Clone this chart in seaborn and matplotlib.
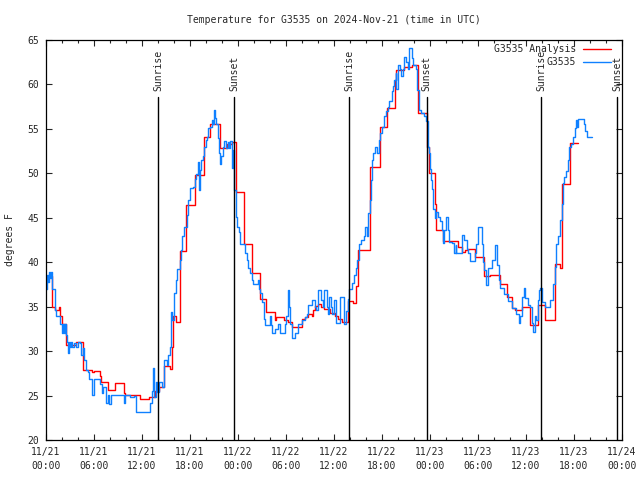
"""
Temperature for G3535 on 2024-Nov-21: analysis vs. station observations.
"""

import matplotlib
matplotlib.use("Agg")
import matplotlib.pyplot as plt
import matplotlib.dates as mdates
import matplotlib.transforms as mtransforms
import numpy as np
import pandas as pd
import seaborn as sns

# hours after 2024-11-21 00:00 UTC
start = pd.Timestamp("2024-11-21 00:00")

red_hours = [0.0, 0.7, 1.1, 1.6, 1.75, 2.0, 2.5, 3.8, 4.6, 5.7, 6.0, 6.7, 6.9, 7.7,
             8.6, 9.7, 9.9, 11.75, 12.9, 13.6, 14.1, 14.7, 15.5, 15.7, 15.9, 16.3,
             16.7, 17.5, 18.6, 19.7, 20.5, 21.7, 22.6, 23.2, 23.8, 24.7, 25.7, 26.8,
             27.5, 28.6, 28.8, 29.7, 30.3, 30.7, 32.0, 32.4, 32.8, 33.2, 33.4, 33.6,
             34.0, 34.4, 34.8, 35.5, 36.1, 36.5, 37.0, 37.8, 38.4, 38.75, 39.0, 40.5,
             41.7, 42.6, 43.6, 43.8, 44.7, 45.7, 46.5, 47.6, 47.9, 48.6, 48.8, 49.6,
             51.5, 51.96, 52.4, 52.8, 53.6, 54.7, 55.5, 56.75, 57.6, 58.2, 58.6,
             59.5, 60.5, 61.5, 62.4, 63.6, 64.25, 64.5, 65.5, 66.5]
red_temps = [38.4, 35.0, 34.6, 35.0, 33.9, 33.0, 30.7, 31.0, 27.9, 27.6, 27.8, 27.2, 26.5, 25.6,
             26.4, 25.3, 25.1, 24.6, 24.8, 25.5, 26.0, 28.3, 28.0, 30.5, 33.9, 33.3,
             41.3, 46.4, 49.8, 54.1, 55.6, 52.8, 53.3, 53.5, 47.9, 42.1, 38.75, 35.9,
             34.4, 33.5, 33.8, 33.5, 33.3, 32.75, 33.6, 33.8, 34.2, 34.0, 34.6, 35.1,
             35.3, 35.0, 34.7, 34.3, 33.9, 33.6, 33.3, 35.6, 35.4, 37.3, 41.4, 50.75,
             55.25, 57.3, 60.5, 61.6, 62.0, 62.2, 56.75, 53.0, 50.0, 46.6, 43.6, 42.4,
             41.7, 41.2, 41.4, 41.5, 40.55, 38.4, 38.6, 37.55, 36.1, 34.9, 34.6,
             35.0, 32.9, 35.2, 33.5, 39.8, 39.4, 48.8, 53.4, 53.4]

blue_hours = [0.0, 0.1, 0.25, 0.35, 0.5, 0.6, 0.7, 0.75, 1.1, 1.3, 1.8, 1.95, 2.1, 2.2,
              2.4, 2.45, 2.6, 2.75, 2.85, 3.0, 3.1, 3.3, 3.5, 3.8, 4.0, 4.25, 4.4, 4.6,
              4.75, 4.95, 5.2, 5.4, 5.7, 5.8, 6.0, 6.75, 6.95, 7.15, 7.45, 7.7, 7.9,
              8.1, 9.7, 9.85, 10.5, 11.0, 11.3, 13.0, 13.2, 13.35, 13.5, 13.7, 13.9,
              14.1, 14.45, 14.75, 15.1, 15.3, 15.5, 15.65, 15.8, 16.0, 16.2, 16.4,
              16.7, 16.85, 17.05, 17.3, 17.6, 17.8, 18.05, 18.4, 18.6, 18.8, 19.0,
              19.1, 19.2, 19.4, 19.6, 19.8, 20.0, 20.15, 20.3, 20.5, 20.7, 20.9, 21.0,
              21.15, 21.3, 21.5, 21.6, 21.75, 21.9, 22.1, 22.3, 22.5, 22.7, 22.85,
              23.0, 23.2, 23.4, 23.55, 23.7, 23.9, 24.1, 24.3, 24.9, 25.1, 25.3, 25.5,
              25.7, 25.9, 26.3, 26.5, 26.6, 26.75, 27.0, 27.2, 27.4, 28.0, 28.1, 28.2,
              28.6, 29.0, 29.25, 29.9, 30.05, 30.2, 30.4, 30.55, 30.7, 31.1, 31.5,
              32.0, 32.4, 32.6, 32.8, 33.2, 33.6, 33.8, 34.0, 34.4, 34.6, 34.8, 35.1,
              35.25, 35.4, 35.6, 35.8, 36.0, 36.25, 36.7, 37.3, 37.5, 37.75, 37.9,
              38.3, 38.5, 38.7, 38.9, 39.1, 39.4, 39.7, 39.9, 40.1, 40.2, 40.3, 40.45,
              40.6, 40.7, 40.8, 40.9, 41.1, 41.4, 41.6, 41.8, 42.0, 42.25, 42.5, 42.7,
              42.9, 43.2, 43.4, 43.5, 43.7, 43.8, 43.97, 44.2, 44.4, 44.6, 44.75,
              44.96, 45.2, 45.4, 45.7, 45.9, 46.25, 46.4, 46.6, 46.9, 47.2, 47.5,
              47.7, 47.75, 47.9, 48.0, 48.1, 48.3, 48.4, 48.6, 48.8, 49.0, 49.25,
              49.45, 49.6, 49.75, 50.0, 50.2, 50.4, 50.7, 51.0, 51.2, 51.3, 51.96,
              52.2, 52.6, 52.8, 53.0, 53.6, 53.75, 54.0, 54.5, 54.6, 54.75, 55.0,
              55.3, 55.7, 56.1, 56.4, 56.6, 56.8, 57.2, 57.8, 58.2, 58.7, 59.1, 59.25,
              59.5, 59.7, 59.9, 60.3, 60.5, 60.7, 60.9, 61.1, 61.3, 61.5, 61.6, 61.8,
              61.96, 62.4, 63.0, 63.4, 63.6, 63.8, 64.0, 64.25, 64.5, 64.6, 64.8,
              65.0, 65.2, 65.4, 65.6, 65.9, 66.1, 66.25, 66.4, 66.5, 67.2, 67.4,
              67.6, 68.2]
blue_temps = [37.0, 38.6, 37.8, 38.9, 38.2, 38.9, 37.7, 37.0, 34.6, 33.9, 33.0, 32.0, 33.0, 32.0,
              33.0, 31.8, 31.0, 29.8, 31.0, 30.5, 31.0, 30.5, 30.9, 30.5, 31.0, 30.9, 29.6, 30.4,
              29.0, 27.9, 27.6, 26.9, 26.0, 25.1, 26.9, 26.3, 25.3, 26.0, 24.2, 25.1, 24.1,
              25.1, 24.2, 25.1, 24.8, 25.0, 23.1, 24.2, 25.5, 28.1, 24.8, 26.5, 25.4,
              26.5, 26.0, 29.0, 28.4, 29.6, 30.5, 34.4, 33.5, 36.5, 38.0, 39.2,
              40.3, 41.4, 42.9, 44.0, 45.3, 47.0, 48.3, 48.5, 49.4, 49.9, 51.3,
              48.1, 50.4, 51.5, 51.9, 53.0, 53.75, 54.1, 55.1, 55.25, 56.0, 55.5, 57.1,
              56.2, 55.6, 54.0, 52.3, 51.1, 52.0, 53.0, 53.6, 52.9, 53.5, 52.8,
              53.6, 50.6, 52.6, 48.1, 45.1, 44.0, 43.4, 42.1, 41.0, 40.3, 39.3, 38.75,
              38.0, 37.6, 37.5, 38.0, 37.0, 36.5, 35.5, 33.6, 32.9, 34.0, 32.9, 32.0,
              32.5, 33.0, 32.0, 33.0, 34.0, 36.9, 35.0, 33.0, 31.5, 32.0, 33.0,
              33.5, 33.8, 34.2, 35.2, 35.8, 35.0, 34.6, 36.9, 35.8, 35.0, 36.9, 35.0,
              34.2, 36.1, 35.0, 34.2, 35.8, 33.2, 36.1, 33.0, 34.5, 35.9, 37.0,
              37.7, 38.6, 39.4, 40.3, 42.0, 42.5, 43.0, 44.0, 43.0, 44.5, 45.5, 47.0,
              49.25, 50.7, 51.5, 52.3, 53.0, 52.3, 53.75, 54.5, 55.25, 56.4, 57.0, 57.5,
              58.1, 59.25, 59.8, 60.5, 61.25, 59.5, 62.2, 61.7, 60.9, 61.7, 63.1,
              62.5, 61.7, 64.1, 63.0, 62.2, 61.7, 59.4, 57.1, 56.8, 56.5, 55.9,
              55.25, 53.0, 52.3, 50.5, 49.25, 48.2, 46.0, 45.0, 45.6, 45.1, 44.6,
              43.6, 42.2, 43.6, 45.1, 43.6, 42.3, 42.2, 41.0, 41.9, 41.0, 43.1,
              42.5, 41.5, 41.0, 40.1, 41.0, 42.1, 44.0, 42.0, 40.0, 39.1, 37.4,
              39.3, 40.25, 41.9, 39.7, 38.0, 37.1, 36.4, 35.6, 34.8, 34.2, 33.2, 34.0,
              36.1, 37.1, 36.0, 35.2, 35.0, 33.2, 32.1, 34.0, 33.5, 35.75, 36.9, 37.1,
              35.5, 35.0, 35.75, 37.6, 39.5, 42.1, 43.0, 44.75, 46.6, 48.9, 49.6,
              50.25, 51.5, 53.0, 53.3, 54.1, 55.1, 56.0, 55.25, 56.1, 55.6, 54.8,
              54.1, 54.1]

sun_hours = [14.0, 23.5, 37.9, 47.6, 61.9, 71.4]
sun_labels = ["Sunrise", "Sunset", "Sunrise", "Sunset", "Sunrise", "Sunset"]


def to_time(hours):
    return start + pd.to_timedelta(np.asarray(hours), unit="h")


red_df = pd.DataFrame({"time": to_time(red_hours), "temp": red_temps})
blue_df = pd.DataFrame({"time": to_time(blue_hours), "temp": blue_temps})

sns.set_style("ticks")
plt.rcParams["font.family"] = ["DejaVu Sans Mono"]
plt.rcParams["font.size"] = 7

fig, ax = plt.subplots(figsize=(6.4, 4.8), dpi=100)
fig.subplots_adjust(left=46 / 640, right=622 / 640, bottom=40 / 480, top=440 / 480)

sns.lineplot(data=red_df, x="time", y="temp", ax=ax, color="#ff0000", lw=1.0,
             drawstyle="steps-post", estimator=None, label="G3535 Analysis")
sns.lineplot(data=blue_df, x="time", y="temp", ax=ax, color="#0f80ff", lw=1.0,
             drawstyle="steps-post", estimator=None, label="G3535")

# sunrise / sunset markers
trans = mtransforms.blended_transform_factory(ax.transData, ax.transAxes)
for h, lab in zip(sun_hours, sun_labels):
    t = mdates.date2num(start + pd.Timedelta(hours=h))
    ax.axvline(t, ymin=0, ymax=0.8575, color="black", lw=1.0)
    ax.text(t, 0.872, lab, transform=trans, rotation=90, ha="center", va="bottom",
            fontsize=7)

ax.set_xlim(start, start + pd.Timedelta(hours=72))
ax.set_ylim(20, 65)
ax.yaxis.set_major_locator(plt.MultipleLocator(5))
ax.xaxis.set_major_locator(mdates.HourLocator(byhour=[0, 6, 12, 18]))
ax.xaxis.set_minor_locator(mdates.HourLocator(byhour=range(0, 24, 2)))
ax.xaxis.set_major_formatter(mdates.DateFormatter("%m/%d\n%H:%M"))

ax.tick_params(axis="both", which="major", direction="in", length=4, width=0.8,
               top=True, right=True, labelsize=7, pad=5)
ax.tick_params(axis="x", which="minor", direction="in", length=2.5, width=0.8,
               top=True)
for lbl in ax.get_xticklabels():
    lbl.set_linespacing(1.5)
for s in ax.spines.values():
    s.set_linewidth(0.9)
    s.set_color("black")

ax.set_xlabel("")
ax.set_ylabel("")
fig.text(10 / 640, 0.5, "degrees F", rotation=90, ha="center", va="center", fontsize=7)
ax.set_title("Temperature for G3535 on 2024-Nov-21 (time in UTC)", fontsize=7, pad=12)

ax.legend(loc="upper right", bbox_to_anchor=(611 / 640, 1 - 44 / 480),
          bbox_transform=fig.transFigure, frameon=False, markerfirst=False,
          borderpad=0, borderaxespad=0, handlelength=2.9, handletextpad=0.7,
          labelspacing=0.35, fontsize=7)

fig.savefig("out.png", dpi=100)
